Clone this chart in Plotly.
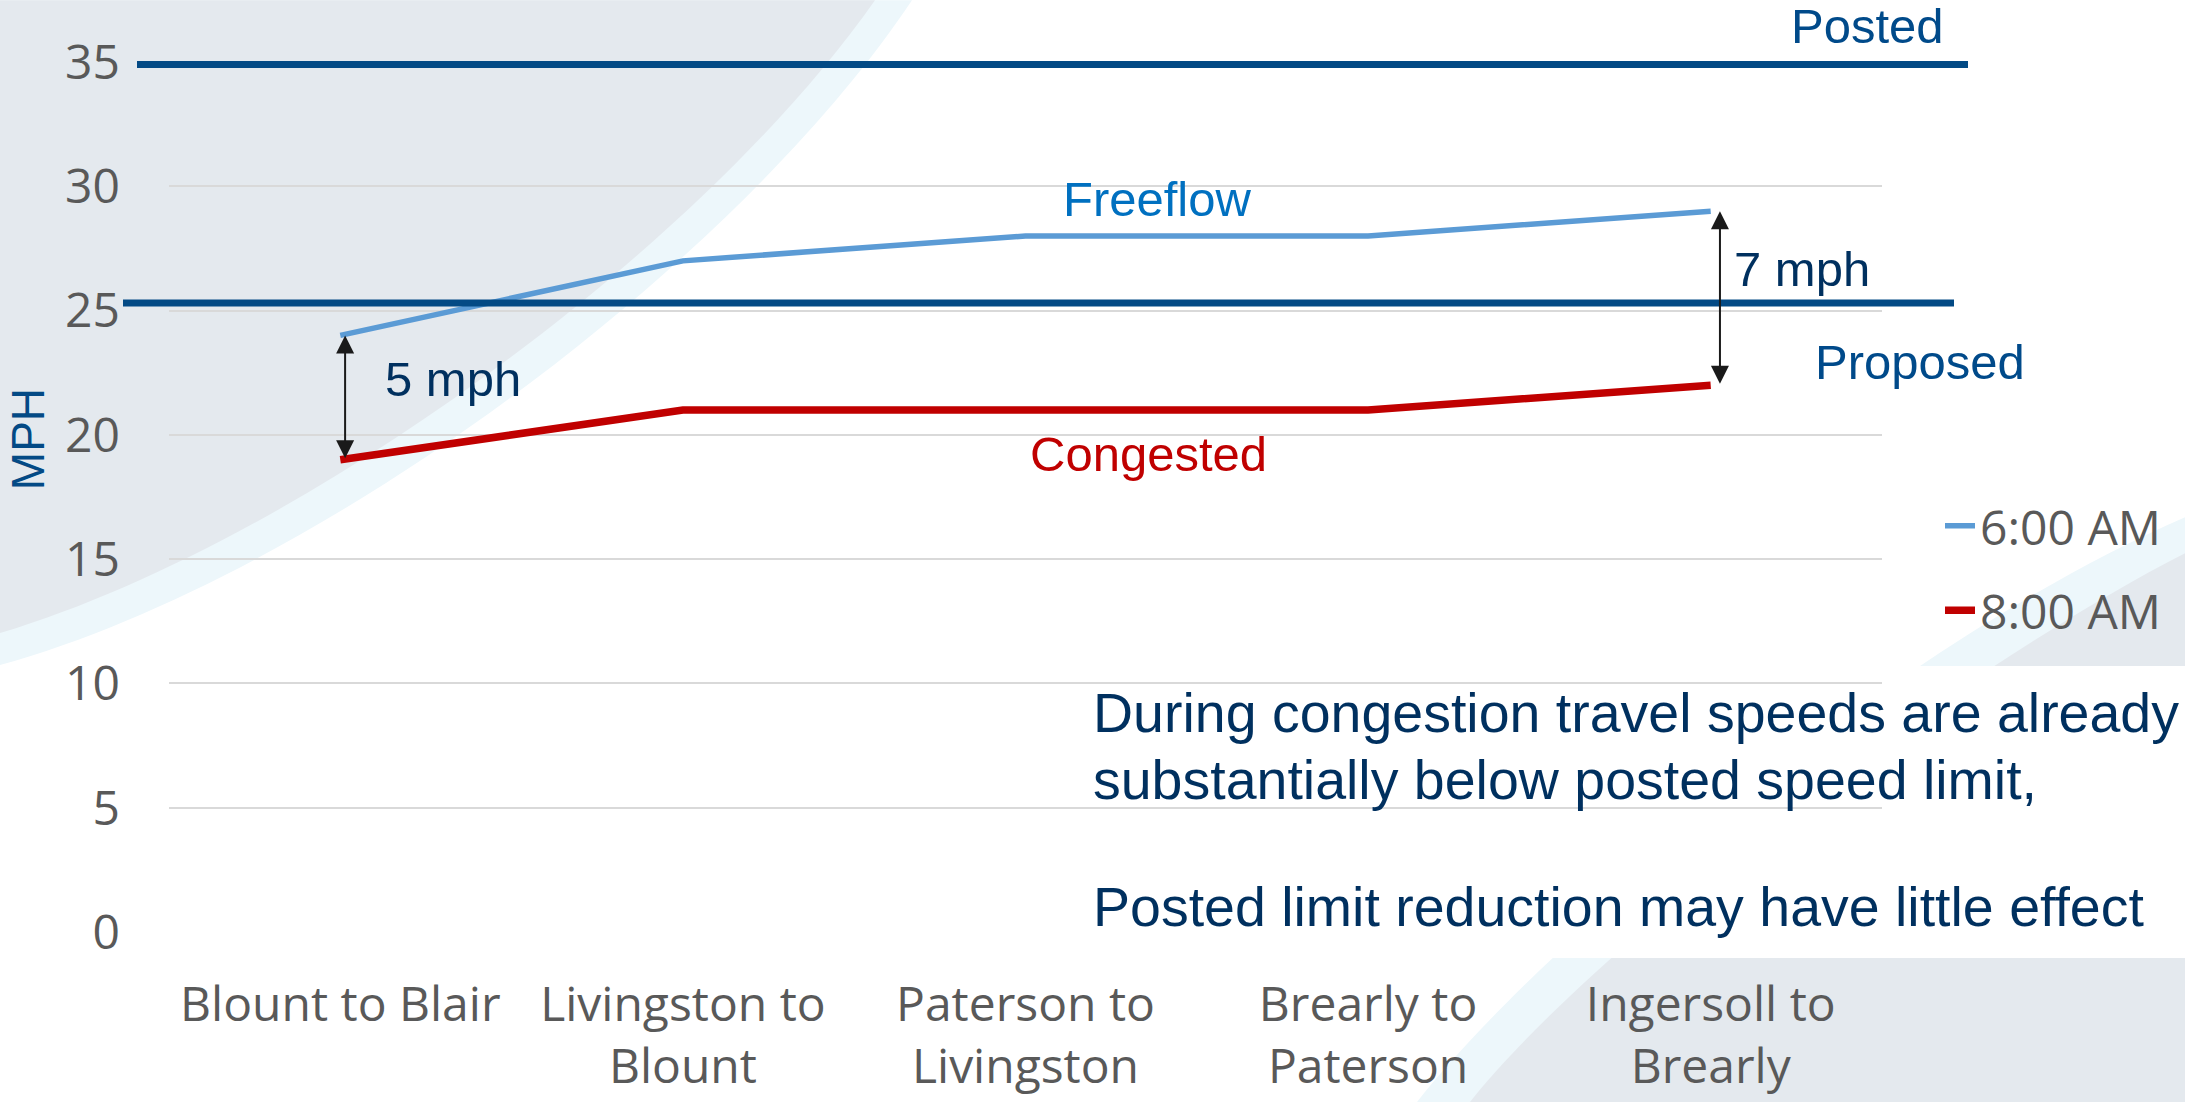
import plotly.graph_objects as go

# ---------------- data ----------------
categories = ["Blount to Blair", "Livingston to<br>Blount", "Paterson to<br>Livingston",
              "Brearly to<br>Paterson", "Ingersoll to<br>Brearly"]
speed_6am = [24, 27, 28, 28, 29]
speed_8am = [19, 21, 21, 21, 22]
series_names = ["6:00 AM", "8:00 AM"]
posted_limit = 34.9
proposed_limit = 25.3
y_ticks = [0, 5, 10, 15, 20, 25, 30, 35]
y_range = [0, 35]

# ---------------- geometry (pixels of the 2185x1102 page) ----------------
W, H = 2185, 1102
L, R, T, B = 169, 1882, 61.7, 932
PW, PH = R - L, B - T


def px(x):
    return (x - L) / PW


def py(y):
    return (B - y) / PH


def yfrac(v):
    return (v - y_range[0]) / (y_range[1] - y_range[0])


def path(points_cmds):
    out = []
    for cmd, pts in points_cmds:
        coords = " ".join(f"{px(x):.5f},{py(y):.5f}" for x, y in pts)
        out.append(f"{cmd}{coords}")
    return " ".join(out) + " Z"


GRAY = "#E4E9EE"
CYAN = "#EDF7FB"
NAVY = "#00305F"
BLUE_DARK = "#004A8A"
LIMIT = "#034A85"
TICK = "#595959"

x_idx = list(range(len(categories)))

fig = go.Figure()
fig.add_trace(go.Scatter(x=x_idx, y=speed_6am, mode="lines", name=series_names[0],
                         line=dict(color="#5B9BD5", width=5.5), legendgroup="a"))
fig.add_trace(go.Scatter(x=x_idx, y=speed_8am, mode="lines", name=series_names[1],
                         line=dict(color="#C00000", width=7.5), legendgroup="b"))

shapes = [
    # top-left background decoration
    dict(type="path", xref="paper", yref="paper", layer="below", line=dict(width=0), fillcolor=CYAN,
         path=path([("M", [(0, 0)]), ("L", [(912, 0)]), ("C", [(737, 262), (322, 575), (0, 665)])])),
    dict(type="path", xref="paper", yref="paper", layer="below", line=dict(width=0), fillcolor=GRAY,
         path=path([("M", [(0, 0)]), ("L", [(875, 0)]), ("C", [(700, 250), (300, 543), (0, 633)])])),
    # bottom-right background decoration
    dict(type="path", xref="paper", yref="paper", layer="below", line=dict(width=0), fillcolor=CYAN,
         path=path([("M", [(1417, 1102)]), ("C", [(1540, 945), (1900, 640), (2185, 517)]),
                    ("L", [(2185, 1102)])])),
    dict(type="path", xref="paper", yref="paper", layer="below", line=dict(width=0), fillcolor=GRAY,
         path=path([("M", [(1470, 1102)]), ("C", [(1588, 952), (1950, 673), (2185, 553)]),
                    ("L", [(2185, 1102)])])),
    # white text box
    dict(type="rect", xref="paper", yref="paper", layer="between", line=dict(width=0), fillcolor="white",
         x0=px(1058), x1=px(2185), y0=py(666), y1=py(958)),
    # posted / proposed limit lines (paper refs so the line at the top edge is not clipped)
    dict(type="line", xref="paper", yref="paper", x0=px(137), x1=px(1968),
         y0=yfrac(posted_limit), y1=yfrac(posted_limit),
         line=dict(color=LIMIT, width=7), layer="above"),
    dict(type="line", xref="paper", yref="paper", x0=px(123), x1=px(1954),
         y0=yfrac(proposed_limit), y1=yfrac(proposed_limit),
         line=dict(color=LIMIT, width=7), layer="above"),
]

lab_font = dict(family="Liberation Sans, Arial", size=49)
body_font = dict(family="Liberation Sans, Arial", size=55.5, color=NAVY)

gap0 = speed_6am[0] - speed_8am[0]
gap4 = speed_6am[-1] - speed_8am[-1]

arrow_common = dict(xref="x", yref="y", axref="x", ayref="y", text="", showarrow=True,
                    arrowhead=2, startarrowhead=2, arrowside="end+start",
                    arrowsize=1.8, startarrowsize=1.8, arrowwidth=2, arrowcolor="#1A1A1A",
                    standoff=0, startstandoff=0)

annotations = [
    dict(xref="paper", yref="paper", x=px(1867), y=py(26), text="Posted", showarrow=False,
         font=dict(**lab_font, color=BLUE_DARK), xanchor="center", yanchor="middle"),
    dict(xref="paper", yref="paper", x=px(1920), y=py(362), text="Proposed", showarrow=False,
         font=dict(**lab_font, color=BLUE_DARK), xanchor="center", yanchor="middle"),
    dict(xref="paper", yref="paper", x=px(1157), y=py(199), text="Freeflow", showarrow=False,
         font=dict(**lab_font, color="#0070C0"), xanchor="center", yanchor="middle"),
    dict(xref="paper", yref="paper", x=px(1148), y=py(454), text="Congested", showarrow=False,
         font=dict(**lab_font, color="#C00000"), xanchor="center", yanchor="middle"),
    dict(xref="paper", yref="paper", x=px(383), y=py(379), text=f"{gap0} mph", showarrow=False,
         font=dict(**lab_font, color=NAVY), xanchor="left", yanchor="middle"),
    dict(xref="paper", yref="paper", x=px(1732), y=py(269), text=f"{gap4} mph", showarrow=False,
         font=dict(**lab_font, color=NAVY), xanchor="left", yanchor="middle"),
    dict(xref="paper", yref="paper", x=px(1091), y=py(713), text="During congestion travel speeds are already",
         showarrow=False, font=body_font, xanchor="left", yanchor="middle"),
    dict(xref="paper", yref="paper", x=px(1091), y=py(780), text="substantially below posted speed limit,",
         showarrow=False, font=body_font, xanchor="left", yanchor="middle"),
    dict(xref="paper", yref="paper", x=px(1091), y=py(907), text="Posted limit reduction may have little effect",
         showarrow=False, font=body_font, xanchor="left", yanchor="middle"),
    dict(xref="paper", yref="paper", x=px(28), y=py(439), text="MPH", textangle=-90, showarrow=False,
         font=dict(family="Liberation Sans, Arial", size=46, color=LIMIT),
         xanchor="center", yanchor="middle"),
    # gap arrows between the two series
    dict(x=x_idx[0] + 0.014, y=speed_6am[0], ax=x_idx[0] + 0.014, ay=speed_8am[0], **arrow_common),
    dict(x=x_idx[-1] + 0.027, y=speed_6am[-1], ax=x_idx[-1] + 0.027, ay=speed_8am[-1], **arrow_common),
]

tick_font = dict(family="Open Sans", size=48, color=TICK)

fig.update_layout(
    width=W, height=H,
    margin=dict(l=L, r=W - R, t=T, b=H - B, autoexpand=False),
    paper_bgcolor="white", plot_bgcolor="rgba(0,0,0,0)",
    shapes=shapes, annotations=annotations,
    showlegend=True,
    legend=dict(x=px(1940), y=py(488), xanchor="left", yanchor="top",
                font=tick_font, bgcolor="rgba(0,0,0,0)",
                traceorder="grouped", tracegroupgap=19, itemwidth=30),
    xaxis=dict(range=[-0.5, len(categories) - 0.5], tickvals=x_idx, ticktext=categories,
               showgrid=False, zeroline=False, showline=False, ticks="",
               tickfont=tick_font, ticklabelstandoff=40, fixedrange=True),
    yaxis=dict(range=y_range, tickvals=y_ticks, showgrid=True, gridcolor="#D9D9D9", gridwidth=2,
               zeroline=False, showline=False, ticks="", tickfont=tick_font,
               ticklabelstandoff=48, fixedrange=True),
)

fig.write_html("out.html", config={"displayModeBar": False},
               post_script="document.body.style.margin='0';document.body.style.padding='0';")
